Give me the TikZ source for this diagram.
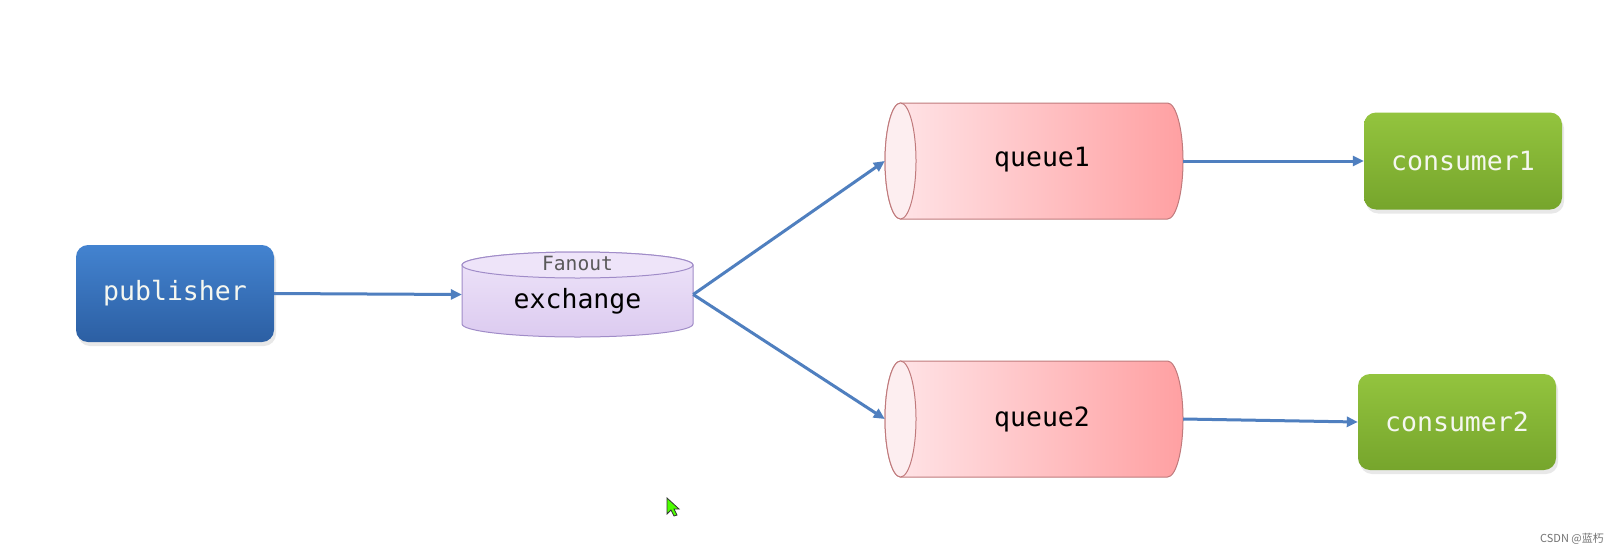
\documentclass[tikz,border=0pt]{standalone}
\usepackage{fontspec}
\setmonofont{DejaVu Sans Mono}
\newfontfamily\cjkfont{Noto Sans CJK SC}
\usetikzlibrary{arrows.meta,shadows,backgrounds}
\definecolor{pubtop}{HTML}{4383D0}
\definecolor{pubbot}{HTML}{2C5FA3}
\definecolor{contop}{HTML}{93C43E}
\definecolor{conbot}{HTML}{76A52C}
\definecolor{qlight}{HTML}{FFE6E9}
\definecolor{qdark}{HTML}{FFA0A2}
\definecolor{qface}{HTML}{FDEEF0}
\definecolor{qborder}{HTML}{C07A7C}
\definecolor{exlight}{HTML}{EEE4F9}
\definecolor{exdark}{HTML}{DCCBF0}
\definecolor{exborder}{HTML}{A08CC8}
\definecolor{arrowc}{HTML}{4F7FBF}
\definecolor{wtext}{HTML}{F5F7F0}
\tikzset{
  box/.style={rounded corners=12pt, minimum width=198pt, minimum height=97pt, inner sep=0pt,
    font=\ttfamily\fontsize{26.5}{30}\selectfont, text=wtext,
    drop shadow={opacity=0.18, shadow xshift=2pt, shadow yshift=-4pt}},
  pubbox/.style={box, top color=pubtop, bottom color=pubbot},
  conbox/.style={box, top color=contop, bottom color=conbot},
  frame/.style={inner sep=0pt, draw=none},
  mono/.style={font=\ttfamily\fontsize{26.5}{30}\selectfont, text=black, inner sep=0pt},
  conn/.style={draw=arrowc, line width=3pt, -{Triangle[length=11pt,width=10pt]}},
}
\begin{document}
\begin{tikzpicture}[x=1pt,y=1pt]
\useasboundingbox[fill=white] (0,0) rectangle (1619,-554);

% publisher
\node[pubbox] (pub) at (175,-293.5) {publisher};

% exchange cylinder
\node[frame, minimum width=231pt, minimum height=85pt] (ex) at (577.5,-294.5) {};
\shade[top color=exlight, bottom color=exdark, draw=exborder, line width=1pt]
  (462,-265) -- (462,-324) arc[start angle=180, end angle=360, x radius=115.5pt, y radius=13pt]
  -- (693,-265) arc[start angle=0, end angle=180, x radius=115.5pt, y radius=13pt] -- cycle;
\filldraw[fill=exlight, draw=exborder, line width=1pt] (577.5,-265) ellipse[x radius=115.5pt, y radius=13pt];
\node[font=\ttfamily\fontsize{19.6}{22}\selectfont, text=black!65, inner sep=0pt] (fanout) at (577.5,-263) {Fanout};
\node[mono] (exlabel) at (577.5,-301) {exchange};

% queue1
\node[frame, minimum width=298pt, minimum height=116pt] (q1) at (1034,-161) {};
\shade[left color=qlight, right color=qdark, draw=qborder, line width=1pt]
  (900.5,-103) -- (1167.5,-103) arc[start angle=90, end angle=-90, x radius=15.5pt, y radius=58pt]
  -- (900.5,-219) arc[start angle=270, end angle=90, x radius=15.5pt, y radius=58pt] -- cycle;
\filldraw[fill=qface, draw=qborder, line width=1pt] (900.5,-161) ellipse[x radius=15.5pt, y radius=58pt];
\node[mono] (q1text) at (1042,-160) {queue1};

% queue2
\node[frame, minimum width=298pt, minimum height=116pt] (q2) at (1034,-419) {};
\shade[left color=qlight, right color=qdark, draw=qborder, line width=1pt]
  (900.5,-361) -- (1167.5,-361) arc[start angle=90, end angle=-90, x radius=15.5pt, y radius=58pt]
  -- (900.5,-477) arc[start angle=270, end angle=90, x radius=15.5pt, y radius=58pt] -- cycle;
\filldraw[fill=qface, draw=qborder, line width=1pt] (900.5,-419) ellipse[x radius=15.5pt, y radius=58pt];
\node[mono] (q2text) at (1042,-419) {queue2};

% consumers
\node[conbox] (c1) at (1463,-161) {consumer1};
\node[conbox, minimum height=96pt] (c2) at (1457,-422) {consumer2};

% connectors
\draw[conn] (pub.east) -- (ex.west);
\draw[conn] (ex.east) -- (q1.west);
\draw[conn] (ex.east) -- (q2.west);
\draw[conn] (q1.east) -- (c1.west);
\draw[conn] (q2.east) -- (c2.west);

% mouse cursor
\filldraw[fill=green!70!yellow, draw=black!80, line width=0.8pt]
  (667,-498) -- (667,-514) -- (671,-510) -- (674,-516) -- (677,-515) -- (674,-509) -- (679,-509) -- cycle;

% watermark
\node[font=\cjkfont\fontsize{11}{13}\selectfont, text=black!55, anchor=east, inner sep=0pt] (wm) at (1604,-539) {CSDN @蓝朽};
\end{tikzpicture}
\end{document}
